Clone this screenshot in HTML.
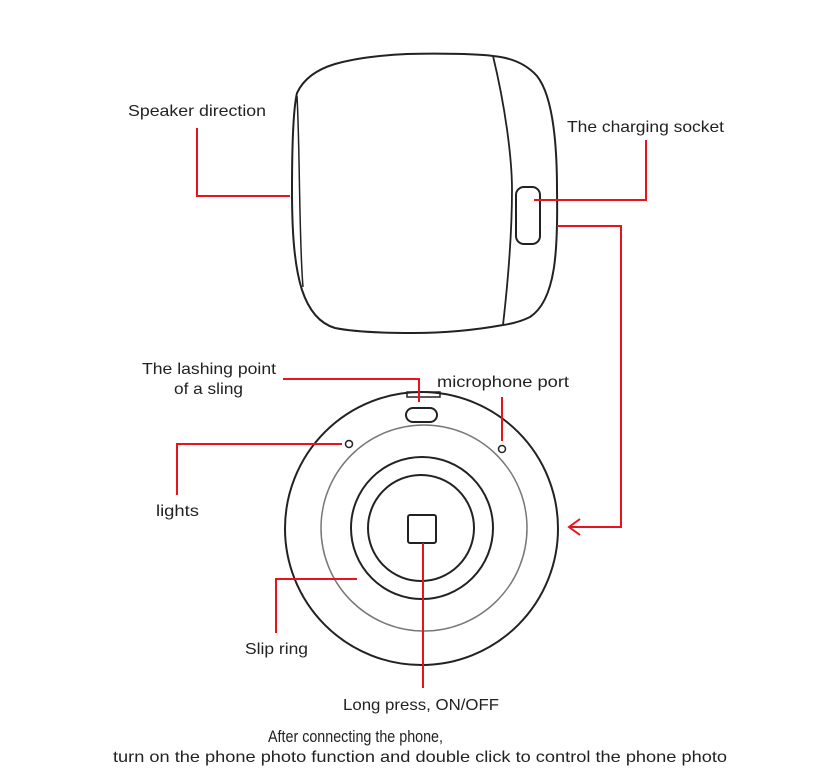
<!DOCTYPE html>
<html><head><meta charset="utf-8"><style>
html,body{margin:0;padding:0;background:#fff;}
svg{display:block;}
text{font-family:"Liberation Sans",sans-serif;font-size:16px;fill:#222;}
</style></head><body>
<svg width="830" height="781" viewBox="0 0 830 781" xmlns="http://www.w3.org/2000/svg">
<g fill="none" stroke="#222" stroke-width="2">
<!-- speaker body -->
<path d="M297,93 C303,80 315,70 335,64 C360,57 385,55 407,54 C440,53 480,54 493,56 C515,58 528,66 537,76 C552,95 557,140 557,190 C558,250 556,300 530,317 C520,322 510,324 503,325 C470,331 440,333 413,333 C375,333 350,331 335,328 C318,323 308,308 302,290 C294,265 292,230 292,190 C292,150 293,110 297,93 Z"/>
<path d="M297,96 C300,150 299,240 303,287" stroke-width="1.5"/>
<path d="M493,56 C506,110 512,160 512,190 C512,240 507,290 503,325" stroke-width="1.8"/>
<rect x="516" y="187" width="24" height="57" rx="8"/>
<!-- round -->
<circle cx="421.5" cy="528.5" r="136.5"/>
<circle cx="424" cy="528" r="103" stroke="#777" stroke-width="1.5"/>
<circle cx="422" cy="528" r="71"/>
<circle cx="421" cy="528" r="53"/>
<rect x="408" y="515" width="28" height="28" rx="2"/>
<rect x="407" y="392" width="33" height="5" stroke-width="1.5"/>
<rect x="406" y="408" width="31" height="14" rx="7"/>
<circle cx="349" cy="444" r="3.5" stroke-width="1.5"/>
<circle cx="502" cy="449" r="3.5" stroke-width="1.5"/>
</g>
<g fill="none" stroke="#e8141c" stroke-width="2">
<polyline points="290,196 197,196 197,128"/>
<polyline points="534,200 646,200 646,140"/>
<polyline points="557,226 621,226 621,527 570,527"/>
<polyline points="580,519 569,527 580,535"/>
<polyline points="283,379 419,379 419,402"/>
<line x1="502" y1="397" x2="502" y2="441"/>
<polyline points="342,444 177,444 177,495"/>
<polyline points="357,579 276,579 276,633"/>
<line x1="423" y1="543" x2="423" y2="688"/>
</g>
<text x="128" y="116" textLength="138" lengthAdjust="spacingAndGlyphs">Speaker direction</text>
<text x="567" y="132" textLength="157" lengthAdjust="spacingAndGlyphs">The charging socket</text>
<text x="142" y="374" textLength="134" lengthAdjust="spacingAndGlyphs">The lashing point</text>
<text x="174" y="394" textLength="69" lengthAdjust="spacingAndGlyphs">of a sling</text>
<text x="437" y="387" textLength="132" lengthAdjust="spacingAndGlyphs">microphone port</text>
<text x="156" y="516" textLength="43" lengthAdjust="spacingAndGlyphs">lights</text>
<text x="245" y="654" textLength="63" lengthAdjust="spacingAndGlyphs">Slip ring</text>
<text x="343" y="710" textLength="156" lengthAdjust="spacingAndGlyphs">Long press, ON/OFF</text>
<text x="268" y="742" textLength="175" lengthAdjust="spacingAndGlyphs" style="font-size:17px">After connecting the phone,</text>
<text x="113" y="762" textLength="614" lengthAdjust="spacingAndGlyphs">turn on the phone photo function and double click to control the phone photo</text>
</svg>
</body></html>
